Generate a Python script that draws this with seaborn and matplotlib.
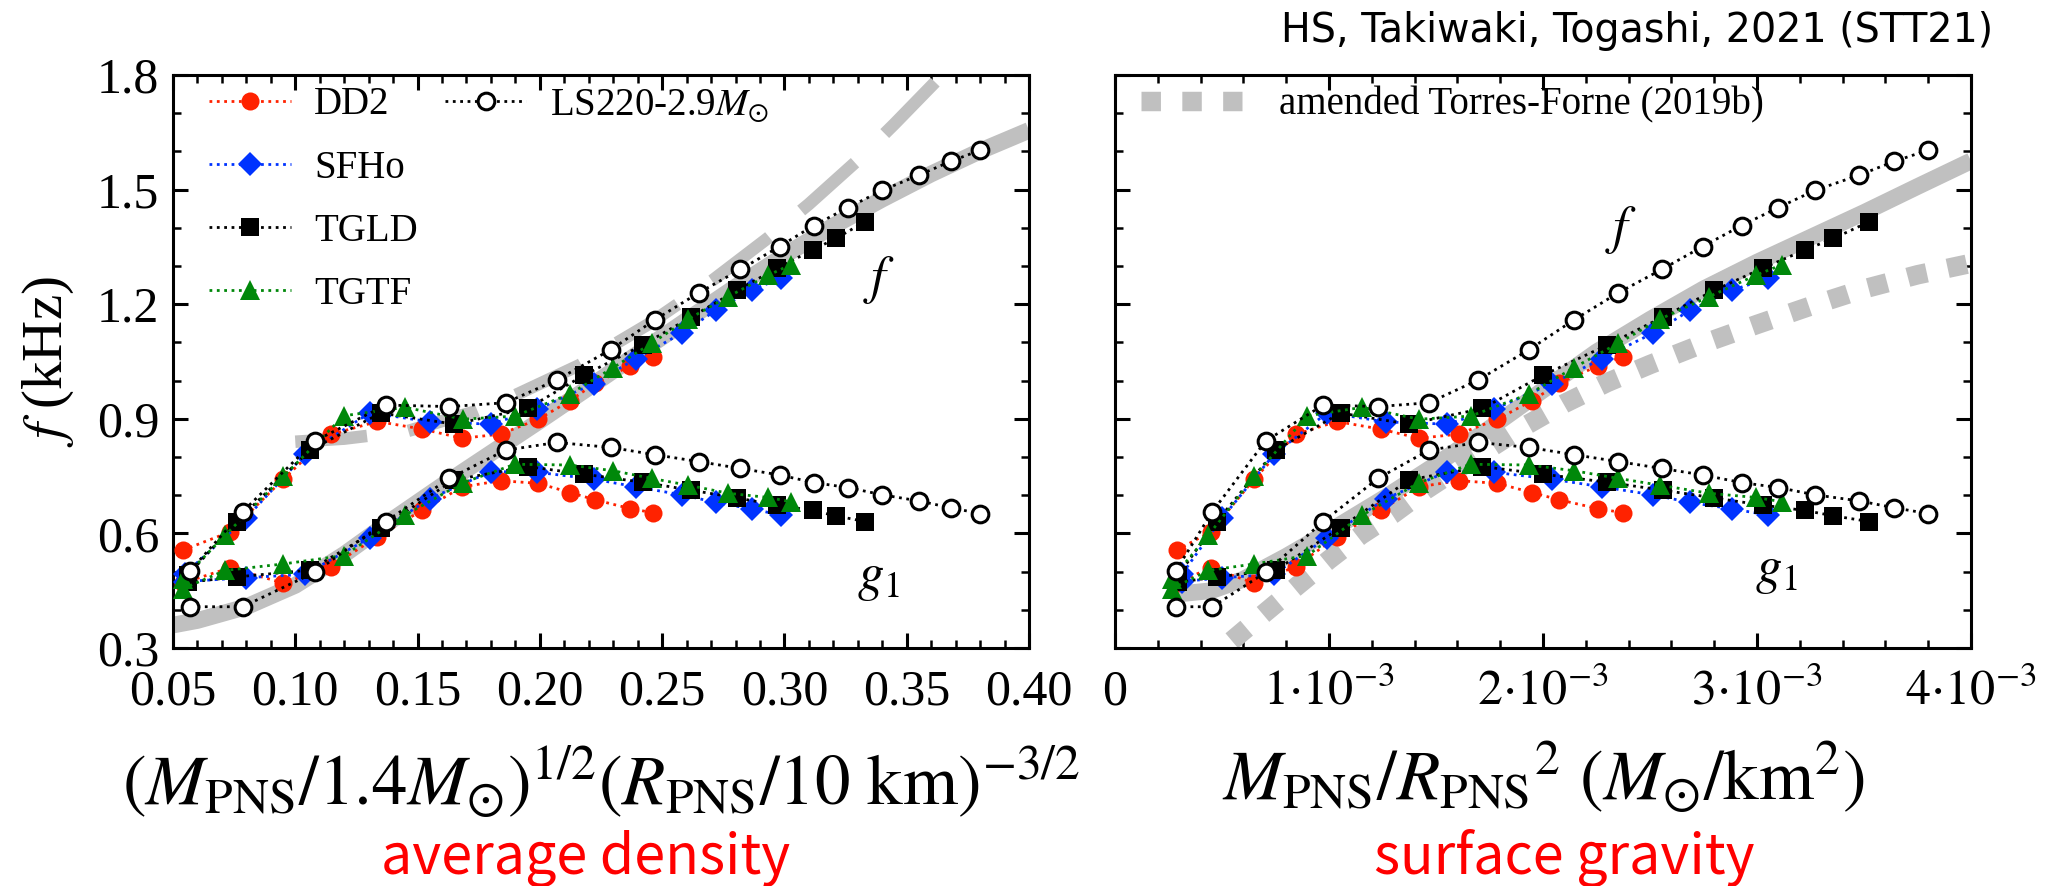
import matplotlib
matplotlib.use("Agg")
import matplotlib.pyplot as plt
from matplotlib.lines import Line2D
from matplotlib.ticker import FixedLocator, FixedFormatter, MultipleLocator
import seaborn as sns

# ---------------- data ----------------
eos_names = ["DD2", "SFHo", "TGLD", "TGTF", "LS220"]

dd2_xden = [0.054, 0.0733, 0.0951, 0.1145, 0.1336, 0.1520, 0.1683, 0.1840, 0.1994, 0.2123, 0.2226, 0.2369, 0.2464]
dd2_xgrav = [2.88e-4, 4.47e-4, 6.50e-4, 8.44e-4, 1.036e-3, 1.241e-3, 1.421e-3, 1.607e-3, 1.787e-3, 1.947e-3, 2.076e-3, 2.255e-3, 2.375e-3]
dd2_up = [0.556, 0.604, 0.742, 0.859, 0.893, 0.873, 0.849, 0.860, 0.899, 0.947, 0.993, 1.038, 1.063]
dd2_lo = [0.470, 0.510, 0.470, 0.513, 0.591, 0.661, 0.722, 0.738, 0.731, 0.707, 0.688, 0.665, 0.654]

sfho_xden = [0.055, 0.080, 0.104, 0.1306, 0.155, 0.180, 0.199, 0.222, 0.2392, 0.258, 0.272, 0.2866, 0.2986]
sfho_xgrav = [3.15e-4, 5.02e-4, 7.43e-4, 9.92e-4, 1.265e-3, 1.553e-3, 1.771e-3, 2.041e-3, 2.274e-3, 2.513e-3, 2.687e-3, 2.885e-3, 3.053e-3]
sfho_up = [0.495, 0.641, 0.807, 0.916, 0.892, 0.886, 0.925, 0.992, 1.057, 1.124, 1.184, 1.237, 1.268]
sfho_lo = [0.474, 0.484, 0.493, 0.589, 0.691, 0.762, 0.760, 0.742, 0.722, 0.701, 0.681, 0.664, 0.648]

tgld_xden = [0.056, 0.076, 0.106, 0.135, 0.165, 0.195, 0.218, 0.242, 0.262, 0.2805, 0.297, 0.3115, 0.321, 0.333]
tgld_xgrav = [2.95e-4, 4.75e-4, 7.51e-4, 1.054e-3, 1.374e-3, 1.717e-3, 2.000e-3, 2.300e-3, 2.562e-3, 2.799e-3, 3.026e-3, 3.224e-3, 3.357e-3, 3.525e-3]
tgld_up = [0.490, 0.631, 0.818, 0.915, 0.886, 0.927, 1.014, 1.093, 1.167, 1.236, 1.294, 1.342, 1.372, 1.416]
tgld_lo = [0.472, 0.486, 0.504, 0.615, 0.740, 0.775, 0.755, 0.734, 0.713, 0.693, 0.674, 0.660, 0.646, 0.631]

tgtf_xden = [0.054, 0.0713, 0.0951, 0.1199, 0.1449, 0.1687, 0.1898, 0.2123, 0.2300, 0.2457, 0.2607, 0.2771, 0.2934, 0.3025]
tgtf_xgrav = [2.65e-4, 4.36e-4, 6.50e-4, 8.99e-4, 1.156e-3, 1.421e-3, 1.662e-3, 1.935e-3, 2.145e-3, 2.352e-3, 2.547e-3, 2.777e-3, 2.995e-3, 3.115e-3]
tgtf_up = [0.481, 0.595, 0.749, 0.908, 0.930, 0.899, 0.907, 0.965, 1.034, 1.098, 1.161, 1.220, 1.276, 1.303]
tgtf_lo = [0.455, 0.503, 0.520, 0.542, 0.648, 0.733, 0.781, 0.779, 0.764, 0.744, 0.726, 0.705, 0.694, 0.683]

ls_xden = [0.057, 0.0785, 0.108, 0.137, 0.163, 0.186, 0.207, 0.229, 0.247, 0.265, 0.282, 0.298, 0.312, 0.326, 0.340, 0.355, 0.368, 0.380]
ls_xgrav = [2.84e-4, 4.55e-4, 7.04e-4, 9.73e-4, 1.229e-3, 1.467e-3, 1.698e-3, 1.935e-3, 2.145e-3, 2.352e-3, 2.555e-3, 2.746e-3, 2.928e-3, 3.100e-3, 3.271e-3, 3.478e-3, 3.642e-3, 3.798e-3]
ls_up = [0.502, 0.657, 0.842, 0.936, 0.932, 0.942, 1.002, 1.081, 1.159, 1.230, 1.291, 1.351, 1.406, 1.453, 1.498, 1.538, 1.574, 1.603]
ls_lo = [0.408, 0.408, 0.498, 0.631, 0.744, 0.818, 0.838, 0.825, 0.806, 0.788, 0.770, 0.753, 0.733, 0.720, 0.701, 0.685, 0.667, 0.652]

# gray fit curves
fitL_x = [0.05, 0.06, 0.08, 0.10, 0.12, 0.14, 0.16, 0.18, 0.20, 0.22, 0.24, 0.26, 0.28, 0.30, 0.32, 0.34, 0.36, 0.38, 0.40]
fitL_y = [0.360, 0.372, 0.408, 0.464, 0.545, 0.637, 0.725, 0.810, 0.895, 0.982, 1.070, 1.158, 1.245, 1.328, 1.405, 1.475, 1.541, 1.601, 1.655]
dashL_x = [0.100, 0.120, 0.146, 0.174, 0.190, 0.216, 0.245, 0.2705, 0.293, 0.310, 0.330, 0.345, 0.366]
dashL_y = [0.840, 0.848, 0.868, 0.920, 0.962, 1.040, 1.150, 1.262, 1.372, 1.462, 1.577, 1.672, 1.810]
fitR_x = [2.7e-4, 4.5e-4, 6.0e-4, 8.0e-4, 1.0e-3, 1.25e-3, 1.5e-3, 1.75e-3, 2.0e-3, 2.25e-3, 2.5e-3, 2.75e-3, 3.0e-3, 3.25e-3, 3.5e-3, 3.75e-3, 4.0e-3]
fitR_y = [0.440, 0.450, 0.480, 0.540, 0.605, 0.690, 0.780, 0.875, 0.975, 1.075, 1.160, 1.240, 1.310, 1.375, 1.440, 1.508, 1.575]
tf_x = [4.0e-4, 5.5e-4, 7.0e-4, 8.5e-4, 1.0e-3, 1.15e-3, 1.3e-3, 1.45e-3, 1.6e-3, 1.75e-3, 1.9e-3, 2.1e-3, 2.3e-3, 2.5e-3, 2.75e-3, 3.0e-3, 3.25e-3, 3.5e-3, 3.75e-3, 4.0e-3]
tf_y = [0.250, 0.321, 0.392, 0.462, 0.531, 0.596, 0.651, 0.713, 0.768, 0.822, 0.876, 0.940, 0.995, 1.042, 1.097, 1.147, 1.195, 1.240, 1.277, 1.307]

# ticks
yticks = [0.3, 0.6, 0.9, 1.2, 1.5, 1.8]
ytick_labels = ["0.3", "0.6", "0.9", "1.2", "1.5", "1.8"]
xticks_den = [0.05, 0.10, 0.15, 0.20, 0.25, 0.30, 0.35, 0.40]
xtick_den_labels = ["0.05", "0.10", "0.15", "0.20", "0.25", "0.30", "0.35", "0.40"]
xticks_grav = [0.0, 1e-3, 2e-3, 3e-3, 4e-3]
xtick_grav_labels = ["0", r"$1{\cdot}10^{-3}$", r"$2{\cdot}10^{-3}$", r"$3{\cdot}10^{-3}$", r"$4{\cdot}10^{-3}$"]

# ---------------- style ----------------
sns.set_theme(style="ticks")
plt.rcParams["font.family"] = ["Liberation Serif", "DejaVu Serif"]
plt.rcParams["mathtext.fontset"] = "stix"
plt.rcParams["axes.linewidth"] = 2.2
for k in ["axes.edgecolor", "xtick.color", "ytick.color", "text.color", "axes.labelcolor"]:
    plt.rcParams[k] = "black"

RED, BLUE, BLACK, GREEN = "#ff2200", "#0033ff", "#000000", "#00880a"
GRAY = "#c0c0c0"

styles = {
    "DD2": dict(color=RED, marker="o", markersize=13, markerfacecolor=RED, markeredgecolor=RED, markeredgewidth=0),
    "SFHo": dict(color=BLUE, marker="D", markersize=12, markerfacecolor=BLUE, markeredgecolor=BLUE, markeredgewidth=0),
    "TGLD": dict(color=BLACK, marker="s", markersize=13.5, markerfacecolor=BLACK, markeredgecolor=BLACK, markeredgewidth=0),
    "TGTF": dict(color=GREEN, marker="^", markersize=15, markerfacecolor=GREEN, markeredgecolor=GREEN, markeredgewidth=0),
    "LS220": dict(color=BLACK, marker="o", markersize=12, markerfacecolor="white", markeredgecolor=BLACK, markeredgewidth=2.2),
}

series = {
    "DD2": (dd2_xden, dd2_xgrav, dd2_up, dd2_lo),
    "SFHo": (sfho_xden, sfho_xgrav, sfho_up, sfho_lo),
    "TGLD": (tgld_xden, tgld_xgrav, tgld_up, tgld_lo),
    "TGTF": (tgtf_xden, tgtf_xgrav, tgtf_up, tgtf_lo),
    "LS220": (ls_xden, ls_xgrav, ls_up, ls_lo),
}

fig = plt.figure(figsize=(20.5, 8.86), dpi=100)
W, H = 2050.0, 886.0
axL = fig.add_axes([173 / W, 1 - 648 / H, 856 / W, 573 / H])
axR = fig.add_axes([1115 / W, 1 - 648 / H, 856 / W, 573 / H])

# gray curves
axL.plot(fitL_x, fitL_y, color=GRAY, lw=12, solid_capstyle="butt", zorder=1)
axL.plot(dashL_x, dashL_y, color=GRAY, lw=9, dashes=(5.76, 3.33), dash_capstyle="butt", zorder=1)
axR.plot(fitR_x, fitR_y, color=GRAY, lw=12, solid_capstyle="butt", zorder=1)
axR.plot(tf_x, tf_y, color=GRAY, lw=14, dashes=(1.0, 1.1), dash_capstyle="butt", zorder=1)

for z, name in enumerate(eos_names):
    xden, xgrav, up, lo = series[name]
    for ax, xx in ((axL, xden), (axR, xgrav)):
        for yy in (up, lo):
            sns.lineplot(x=xx, y=yy, ax=ax, sort=False, estimator=None, linestyle=":",
                         linewidth=2.0, zorder=3 + z, legend=False, **styles[name])

# axes setup
for ax in (axL, axR):
    ax.set_ylim(0.3, 1.8)
    ax.yaxis.set_major_locator(FixedLocator(yticks))
    ax.yaxis.set_major_formatter(FixedFormatter(ytick_labels))
    ax.yaxis.set_minor_locator(MultipleLocator(0.1))
    ax.tick_params(which="both", direction="in", top=True, right=True, labelsize=36)
    ax.tick_params(which="major", length=11, width=2.2)
    ax.tick_params(which="minor", length=5.5, width=1.8)
    ax.tick_params(axis="x", which="major", pad=15)
    ax.tick_params(axis="y", which="major", pad=10)
    ax.grid(False)
    for s in ax.spines.values():
        s.set_visible(True)
        s.set_linewidth(2.2)
        s.set_color("black")

axL.set_xlim(0.05, 0.40)
axL.xaxis.set_major_locator(FixedLocator(xticks_den))
axL.xaxis.set_major_formatter(FixedFormatter(xtick_den_labels))
axL.xaxis.set_minor_locator(MultipleLocator(0.01))

axR.set_xlim(0.0, 4e-3)
axR.xaxis.set_major_locator(FixedLocator(xticks_grav))
axR.xaxis.set_major_formatter(FixedFormatter(xtick_grav_labels))
axR.xaxis.set_minor_locator(MultipleLocator(2e-4))
axR.tick_params(labelleft=False)

axL.set_xlabel(r"$(M_{\rm PNS}/1.4M_{\odot})^{1/2}(R_{\rm PNS}/10\ {\rm km})^{-3/2}$", fontsize=51, va="center")
axL.xaxis.set_label_coords(0.5, -0.233)
axR.set_xlabel(r"$M_{\rm PNS}/R_{\rm PNS}{}^{2}\ (M_{\odot}/{\rm km}^{2})$", fontsize=51, va="center")
axR.xaxis.set_label_coords(0.5, -0.226)
axL.set_ylabel(r"$f$ (kHz)", fontsize=41, va="center")
axL.yaxis.set_label_coords(-0.146, 0.5)
axR.set_ylabel("")

# mode labels
axL.text(0.3387, 1.263, r"$f$", fontsize=38, ha="center", va="center")
axL.text(0.3385, 0.480, r"$g_1$", fontsize=38, ha="center", va="center")
axR.text(2.363e-3, 1.393, r"$f$", fontsize=38, ha="center", va="center")
axR.text(3.09e-3, 0.500, r"$g_1$", fontsize=38, ha="center", va="center")

# legends
hs = [Line2D([], [], linestyle=":", linewidth=2.0, **styles[n]) for n in eos_names]
blank = Line2D([], [], linestyle="none", marker=None)
axL.legend(handles=hs[:4] + [hs[4], blank, blank, blank],
           labels=["DD2", "SFHo", "TGLD", "TGTF", r"LS220-2.9$M_{\odot}$", "", "", ""],
           ncol=2, loc="upper left", bbox_to_anchor=(0.042, 0.980), frameon=False,
           fontsize=28, handlelength=2.1, handletextpad=0.6, columnspacing=0.7,
           labelspacing=0.67, borderpad=0, borderaxespad=0, numpoints=1)
h_tf = Line2D([], [], color=GRAY, lw=14, dashes=(1.0, 1.1), dash_capstyle="butt")
axR.legend(handles=[h_tf], labels=["amended Torres-Forne (2019b)"], loc="upper left",
           bbox_to_anchor=(0.030, 0.980), frameon=False, fontsize=28, handlelength=2.6,
           handletextpad=0.95, borderpad=0, borderaxespad=0)

fig.text(1993 / W, 1 - 31 / H, "HS, Takiwaki, Togashi, 2021 (STT21)", ha="right", va="center",
         fontsize=28.5, family=["DejaVu Sans"])
sans = ["Noto Sans CJK JP", "DejaVu Sans"]
fig.text(586 / W, 1 - 858 / H, "average density", color="red", ha="center", va="center",
         fontsize=40, family=sans)
fig.text(1564 / W, 1 - 858 / H, "surface gravity", color="red", ha="center", va="center",
         fontsize=40, family=sans)

fig.savefig("out.png", dpi=100)
